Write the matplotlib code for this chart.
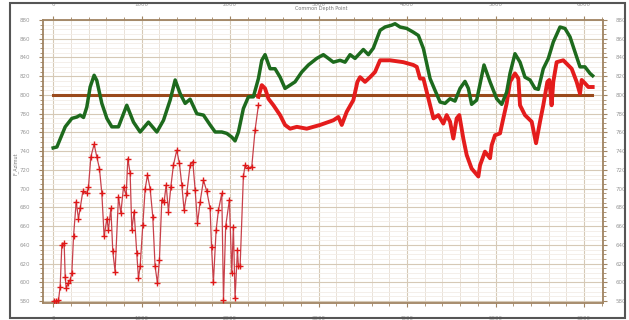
import matplotlib.pyplot as plt
from matplotlib.patches import Rectangle
from matplotlib.ticker import MultipleLocator

# reference level
ref_x = [0, 6090]
ref_y = [800, 800]

# smoothed azimuth (green)
green_x = [0, 42, 136, 211, 268, 305, 343, 380, 418, 463, 493, 550, 607, 663, 738,
           832, 908, 983, 1077, 1172, 1247, 1322, 1379, 1435, 1492, 1548, 1624, 1699,
           1774, 1831, 1906, 1962, 2019, 2056, 2094, 2150, 2207, 2263, 2320, 2358,
           2395, 2452, 2508, 2565, 2621, 2678, 2734, 2810, 2885, 2979, 3054, 3111,
           3167, 3243, 3299, 3356, 3412, 3506, 3563, 3619, 3695, 3751, 3827, 3864,
           3921, 3996, 4071, 4128, 4185, 4260, 4316, 4373, 4429, 4486, 4542, 4599,
           4655, 4693, 4730, 4787, 4870, 4938, 5013, 5070, 5126, 5164, 5220, 5277,
           5333, 5390, 5446, 5484, 5540, 5597, 5653, 5729, 5785, 5842, 5898, 5955,
           6011, 6068, 6098]
green_y = [743.5, 744.5, 766, 775, 776.5, 778.5, 776, 787, 808.5, 821, 815.5, 791,
           775, 766, 766, 789, 771, 760.5, 771, 760.5, 773, 794.5, 816, 801.5, 791,
           795.5, 780, 778.5, 768, 760.5, 760.5, 759, 755, 751, 760.5, 785.5, 798,
           798, 817.5, 837, 843, 828, 828, 819, 807, 810.5, 814, 824.5, 832, 839,
           843, 839, 835, 837, 835, 843, 839, 848.5, 843, 850, 869, 872.5, 874.5,
           876, 872.5, 871, 867, 863.5, 849.5, 817.5, 805, 792.5, 791, 796, 793.5,
           807, 814.5, 807, 790, 794.5, 832, 814, 796, 790, 803, 823, 844, 835, 819,
           816, 807, 806, 828, 839, 856.5, 872.5, 871, 862, 846, 830, 830, 823, 820.5]

# picked azimuth (red), scattered part
red1_x = [4, 30, 60, 79, 98, 124, 136, 147, 170, 192, 211, 230, 260, 286, 305, 335,
          380, 399, 426, 463, 493, 523, 550, 576, 607, 625, 652, 674, 700, 738, 765,
          795, 825, 844, 870, 889, 915, 945, 964, 983, 1013, 1040, 1066, 1096, 1126,
          1152, 1179, 1201, 1228, 1254, 1277, 1303, 1330, 1359, 1397, 1427, 1454,
          1480, 1510, 1548, 1578, 1605, 1631, 1661, 1699, 1737, 1774, 1790, 1811,
          1842, 1868, 1906, 1925, 1950, 1992, 2019, 2037, 2056, 2083, 2094, 2113,
          2150, 2170, 2200, 2245, 2282, 2320]
red1_y = [580, 580, 581, 595.5, 640, 642, 606, 594, 599, 602.5, 610, 649, 686, 668,
          679, 697, 695, 702, 734, 747.5, 734, 721.5, 695, 649, 668, 656, 679, 633,
          611.5, 691.5, 674, 702, 693, 732, 716.5, 656, 675.5, 631, 604.5, 617, 661,
          700, 714.5, 700, 670, 617, 599, 624, 688, 686, 704, 675.5, 702, 725, 741,
          727, 704, 677, 695, 725, 729, 698.5, 663, 686, 709, 697, 679, 638, 600,
          656, 677, 695, 581.5, 660, 688, 610, 659.5, 583.5, 634.5, 617, 617, 713,
          725, 722, 723.5, 762.5, 789]

# picked azimuth (red), continuous part
red2_x = [2320, 2358, 2395, 2433, 2490, 2565, 2621, 2678, 2754, 2866, 3017, 3167,
          3224, 3262, 3318, 3393, 3439, 3469, 3525, 3582, 3638, 3695, 3808, 3958,
          4071, 4110, 4147, 4185, 4242, 4298, 4354, 4410, 4448, 4486, 4523, 4561,
          4591, 4636, 4674, 4730, 4806, 4825, 4881, 4938, 4957, 4994, 5051, 5088,
          5126, 5164, 5220, 5258, 5277, 5333, 5409, 5458, 5503, 5540, 5586, 5608,
          5634, 5653, 5691, 5766, 5861, 5917, 5955, 5974, 6011, 6049, 6098]
red2_y = [798, 810.5, 807, 796, 789, 778.5, 768, 764, 766, 764, 768, 773, 776.5, 768,
          782, 794.5, 814, 819, 814, 819, 824.5, 837, 837, 835, 832, 830, 817.5,
          817.5, 796, 775, 778.5, 769.5, 778.5, 771.5, 753.5, 775, 778.5, 753.5, 736,
          721.5, 713, 725, 739.5, 732.5, 746.5, 757, 759, 775, 791, 814, 823, 817.5,
          789, 778.5, 771.5, 748.5, 771.5, 789, 814, 816, 789, 814, 835, 837, 828,
          814, 801.5, 816, 812.5, 808.5, 808.5]

fig = plt.figure(figsize=(6.29, 3.2), dpi=100)
fig.patches.append(Rectangle((10 / 629, 2 / 320), 615 / 629, 315 / 320,
                             transform=fig.transFigure, fill=False,
                             edgecolor="#555555", linewidth=1.5))

ax = fig.add_axes([43 / 629, 17 / 320, 560 / 629, 283 / 320])
ax.set_xlim(-115, 6215)
ax.set_ylim(578, 880)

ax.xaxis.set_major_locator(MultipleLocator(1000))
ax.xaxis.set_minor_locator(MultipleLocator(200))
ax.yaxis.set_major_locator(MultipleLocator(20))
ax.yaxis.set_minor_locator(MultipleLocator(5))
ax.grid(which="major", color="#d6c9b6", linewidth=0.8)
ax.grid(which="minor", axis="x", color="#e6ddd2", linewidth=0.6)
ax.grid(which="minor", axis="y", color="#f2ede7", linewidth=0.6)
ax.set_axisbelow(True)

for s in ax.spines.values():
    s.set_color("#a08462")
    s.set_linewidth(1.3)

ax.tick_params(which="both", top=True, right=True, labeltop=True, labelright=True,
               labelsize=4, labelcolor="#999999", color="#a08462", pad=6)
ax.tick_params(which="major", length=3)
ax.tick_params(which="minor", length=2)

ax.plot(ref_x, ref_y, color="#9a4a1c", linewidth=2.2, zorder=3)
ax.plot(red1_x, red1_y, color="#c8404a", linewidth=0.9, marker="+",
        markersize=4, markeredgecolor="#e01818", markeredgewidth=1.0, zorder=4)
ax.plot(red2_x, red2_y, color="#e41c1c", linewidth=2.8, zorder=4)
ax.plot(green_x, green_y, color="#1d6a1d", linewidth=2.5, zorder=5)

fig.text(0.51, 0.972, "Common Depth Point", fontsize=3.5, color="#777777",
         ha="center", va="center")
fig.text(0.025, 0.49, "F_Azimut", fontsize=3.5, color="#777777", rotation=90,
         ha="center", va="center")

fig.savefig("out.png", dpi=100)
